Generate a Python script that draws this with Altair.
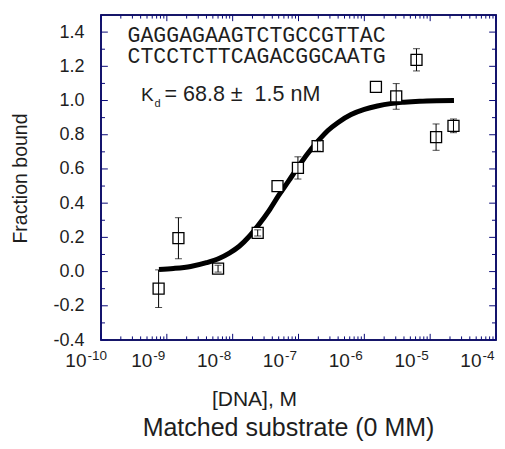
import altair as alt
import pandas as pd

# ---- data ----
conc = [7.5e-10, 1.5e-9, 6.0e-9, 2.4e-8, 4.8e-8, 9.8e-8, 1.95e-7, 1.5e-6, 3.05e-6, 6.2e-6, 1.23e-5, 2.26e-5]
frac = [-0.10, 0.195, 0.017, 0.226, 0.50, 0.606, 0.734, 1.08, 1.024, 1.238, 0.786, 0.852]
err = [0.11, 0.12, 0.02, 0.018, 0.0, 0.065, 0.03, 0.0, 0.075, 0.065, 0.077, 0.04]

curve_conc = [7.6e-10, 1.26e-9, 2.3e-9, 4.0e-9, 6.3e-9, 8.9e-9, 1.26e-8, 1.78e-8, 2.5e-8,
              3.55e-8, 5.0e-8, 7.1e-8, 1.0e-7, 1.41e-7, 2.0e-7, 2.8e-7, 4.0e-7, 6.3e-7,
              1.0e-6, 1.58e-6, 2.5e-6, 4.0e-6, 6.9e-6, 1.26e-5, 2.3e-5]
curve_frac = [0.012, 0.018, 0.030, 0.052, 0.078, 0.108, 0.148, 0.205, 0.275,
              0.355, 0.445, 0.53, 0.615, 0.695, 0.765, 0.825, 0.872, 0.918,
              0.948, 0.968, 0.982, 0.99, 0.996, 0.999, 1.0]

seq_lines = ["GAGGAGAAGTCTGCCGTTAC", "CTCCTCTTCAGACGGCAATG"]
seq_x = [2.53e-10, 2.53e-10]
seq_y = [1.343, 1.219]
kd_main = "K"
kd_sub = "d"
kd_rest = "= 68.8 \u00b1 \u00a01.5 nM"
kd_x = [4.05e-10]
kd_y = [0.999]

x_title = "[DNA], M"
y_title = "Fraction bound"
chart_title = "Matched substrate (0 MM)"

x_domain = [1e-10, 1e-4]
y_domain = [-0.4, 1.5]
x_major = [1e-10, 1e-9, 1e-8, 1e-7, 1e-6, 1e-5, 1e-4]
x_minor = [m * d for d in [1e-10, 1e-9, 1e-8, 1e-7, 1e-6, 1e-5] for m in [2, 3, 4, 5, 6, 7, 8, 9]]
y_major = [-0.4, -0.2, 0.0, 0.2, 0.4, 0.6, 0.8, 1.0, 1.2, 1.4]
y_minor = [-0.3, -0.1, 0.1, 0.3, 0.5, 0.7, 0.9, 1.1, 1.3]
x_exponents = [-10, -9, -8, -7, -6, -5, -4]

# inward tick lengths expressed in data units
XT_MAJOR, XT_MINOR = 0.036, 0.021
YT_MAJOR, YT_MINOR = 1.27, 1.15

pts = pd.DataFrame({"conc": conc, "frac": frac, "err": err})
pts["lo"] = pts["frac"] - pts["err"]
pts["hi"] = pts["frac"] + pts["err"]
bars = pts[pts["err"] > 0].reset_index(drop=True)
curve_df = pd.DataFrame({"conc": curve_conc, "frac": curve_frac})
seq_df = pd.DataFrame({"label": seq_lines, "x": seq_x, "y": seq_y})
kd_df = pd.DataFrame({"x": kd_x, "y": kd_y})

xt_rows = []
for vals, ln in ((x_major, XT_MAJOR), (x_minor, XT_MINOR)):
    for v in vals:
        xt_rows.append({"tx": v, "ty": y_domain[0], "ty2": y_domain[0] + ln})
        xt_rows.append({"tx": v, "ty": y_domain[1], "ty2": y_domain[1] - ln})
xt_df = pd.DataFrame(xt_rows)
yt_rows = []
for vals, f in ((y_major, YT_MAJOR), (y_minor, YT_MINOR)):
    for v in vals:
        yt_rows.append({"ty": v, "tx": x_domain[0], "tx2": x_domain[0] * f})
        yt_rows.append({"ty": v, "tx": x_domain[1], "tx2": x_domain[1] / f})
yt_df = pd.DataFrame(yt_rows)

FONT = "Liberation Sans"
INK = "#1e1e1e"
FRAME_INK = "#0a0a78"
TICK_INK = "#0a0a78"

xscale = alt.Scale(type="log", domain=x_domain, nice=False)
yscale = alt.Scale(domain=y_domain, nice=False, zero=False)

sup_parts = []
for e in x_exponents:
    sup_parts.append(f"datum.value < {3 * 10.0 ** e:.1e} ? '{e}'")
x_exp_expr = " : ".join(sup_parts) + " : ''"

x_base_axis = alt.Axis(orient="bottom", values=x_major, labelExpr="'10'",
                       ticks=False, domain=False, grid=False,
                       labelFont=FONT, labelFontSize=19, labelColor=INK,
                       labelAlign="right", labelBaseline="alphabetic",
                       labelPadding=26, labelOffset=-15, labelFlush=False,
                       title=x_title, titleFont=FONT, titleFontSize=21,
                       titleFontWeight="normal", titleColor=INK,
                       titleX=153, titleY=65, titleAlign="center",
                       titleBaseline="alphabetic")
x_exp_axis = alt.Axis(orient="bottom", values=x_major, labelExpr=x_exp_expr,
                      ticks=False, domain=False, grid=False,
                      labelFont=FONT, labelFontSize=13.5, labelColor=INK,
                      labelAlign="left", labelBaseline="alphabetic",
                      labelPadding=19, labelOffset=-14, labelFlush=False,
                      title=None)
y_label_axis = alt.Axis(orient="left", values=y_major,
                        labelExpr="datum.value < -0.0001 ? '-' + format(-datum.value, '.1f') : format(abs(datum.value), '.1f')",
                        ticks=False, domain=False, grid=False,
                        labelFont=FONT, labelFontSize=18, labelColor=INK,
                        labelPadding=17, labelFlush=False,
                        title=y_title, titleFont=FONT, titleFontSize=19.5,
                        titleFontWeight="normal", titleColor=INK,
                        titleX=-75, titleY=163, titleAngle=-90,
                        titleAlign="center", titleBaseline="alphabetic")

X = lambda f, ax=None: alt.X(f, scale=xscale, axis=ax)
Y = lambda f, ax=None: alt.Y(f, scale=yscale, axis=ax)

frame = alt.Chart(kd_df).mark_rect(fillOpacity=0, stroke=FRAME_INK, strokeWidth=1.6).encode(
    x=alt.X(datum=x_domain[0], scale=xscale, axis=None), x2=alt.X2(datum=x_domain[1]),
    y=alt.Y(datum=y_domain[0], scale=yscale, axis=None), y2=alt.Y2(datum=y_domain[1]),
)

xticks = alt.Chart(xt_df).mark_rule(color=TICK_INK, strokeWidth=1).encode(
    x=X("tx:Q"), y=Y("ty:Q"), y2="ty2:Q")
yticks = alt.Chart(yt_df).mark_rule(color=TICK_INK, strokeWidth=1).encode(
    y=Y("ty:Q"), x=X("tx:Q"), x2="tx2:Q")

curve = alt.Chart(curve_df).mark_line(color="black", strokeWidth=5, interpolate="monotone").encode(
    x=X("conc:Q", x_base_axis), y=Y("frac:Q", y_label_axis))

rules = alt.Chart(bars).mark_rule(color="black", strokeWidth=1).encode(
    x=X("conc:Q"), y=Y("lo:Q"), y2="hi:Q")

squares = alt.Chart(pts).mark_point(shape="square", size=121, fill="white", fillOpacity=1,
                                    stroke="black", strokeWidth=1.3, opacity=1).encode(
    x=X("conc:Q", x_exp_axis), y=Y("frac:Q"))

caps_top = alt.Chart(bars).mark_tick(orient="horizontal", size=7, thickness=1, color="black").encode(
    x=X("conc:Q"), y=Y("hi:Q"))
caps_bot = alt.Chart(bars).mark_tick(orient="horizontal", size=7, thickness=1, color="black").encode(
    x=X("conc:Q"), y=Y("lo:Q"))

seq_text = alt.Chart(seq_df).mark_text(font="Courier New, Liberation Mono, monospace", fontSize=21.5,
                                       align="left", baseline="alphabetic", color=INK).encode(
    x=X("x:Q"), y=Y("y:Q"), text="label:N")

kd_k = alt.Chart(kd_df).mark_text(font=FONT, fontSize=19, align="left", baseline="alphabetic",
                                  color=INK, text=kd_main).encode(x=X("x:Q"), y=Y("y:Q"))
kd_d = alt.Chart(kd_df).mark_text(font=FONT, fontSize=11, align="left", baseline="alphabetic",
                                  color=INK, text=kd_sub, dx=13.5, dy=6).encode(x=X("x:Q"), y=Y("y:Q"))
kd_r = alt.Chart(kd_df).mark_text(font=FONT, fontSize=21.5, align="left", baseline="alphabetic",
                                  color=INK, text=kd_rest, dx=23.5).encode(x=X("x:Q"), y=Y("y:Q"))

chart = alt.layer(
    curve, squares, frame, xticks, yticks, rules, caps_top, caps_bot, seq_text, kd_k, kd_d, kd_r
).resolve_axis(
    x="independent", y="independent"
).properties(
    width=489, height=433,
    autosize=alt.AutoSizeParams(type="fit", contains="padding"),
    padding={"left": 2, "top": 6, "right": 0, "bottom": 0},
    title=alt.TitleParams(chart_title, orient="bottom", font=FONT, fontSize=25, fontWeight="normal",
                          color=INK, anchor="middle", frame="group", dx=-10, offset=7),
).configure_view(stroke="black", strokeWidth=1.5)

chart.save("out.html", embed_options={"renderer": "svg", "actions": False})
